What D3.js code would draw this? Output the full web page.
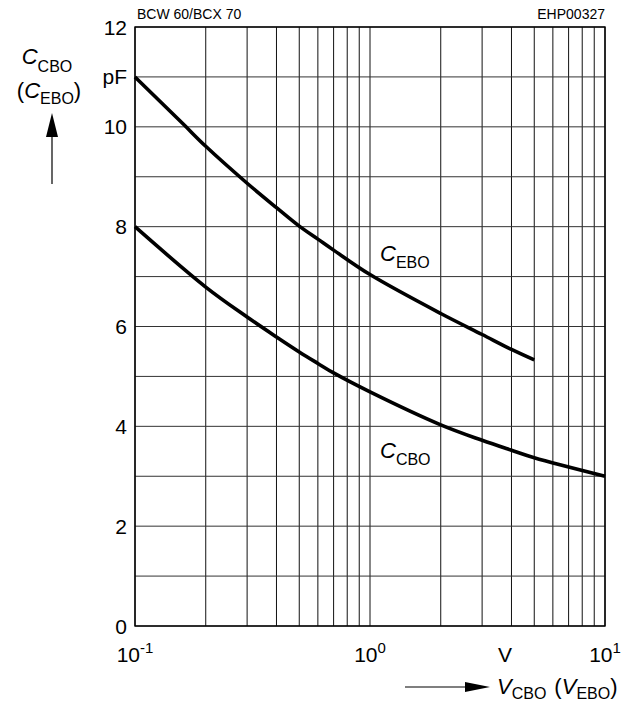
<!DOCTYPE html>
<html>
<head>
<meta charset="utf-8">
<script src="https://cdn.jsdelivr.net/npm/d3@7"></script>
<style>
  html, body { margin: 0; padding: 0; background: #fff; }
  svg text { font-family: "Liberation Sans", Arial, Helvetica, sans-serif; fill: #000; }
</style>
</head>
<body>
<svg id="chart" width="639" height="708"></svg>
<script>
// Capacitance vs. reverse voltage (BCW 60 / BCX 70)
const vEBO = [0.1, 0.16, 0.2, 0.3, 0.4, 0.5, 0.6, 0.7, 1, 2, 3, 4, 5];
const cEBO = [11, 10.06, 9.61, 8.87, 8.38, 8.01, 7.75, 7.53, 7.04, 6.26, 5.84, 5.54, 5.33];
const vCBO = [0.1, 0.2, 0.3, 0.4, 0.5, 0.6, 0.7, 1, 2, 3, 4, 5, 10];
const cCBO = [8, 6.79, 6.19, 5.79, 5.49, 5.26, 5.07, 4.69, 4.03, 3.72, 3.52, 3.37, 3.0];
const yTickValues = [0, 2, 4, 6, 8, 10, 11, 12];
const yTickText = ["0", "2", "4", "6", "8", "10", "pF", "12"];
const xDecades = [0.1, 1, 10];
const xDecadeExp = ["-1", "0", "1"];

const svg = d3.select("#chart");
const plotL = 135, plotR = 605, plotT = 27, plotB = 626;

const x = d3.scaleLog().domain([0.1, 10]).range([plotL, plotR]);
const y = d3.scaleLinear().domain([0, 12]).range([plotB, plotT]);

// grid: log minor lines per decade, horizontal every 1 pF
const xGrid = [];
for (const d of [0.1, 1]) {
  for (let k = 1; k <= 9; k++) xGrid.push(+(d * k).toPrecision(3));
}
xGrid.push(10);
const g = svg.append("g");
g.selectAll("line.vg").data(xGrid).join("line")
  .attr("x1", d => x(d)).attr("x2", d => x(d))
  .attr("y1", plotT).attr("y2", plotB)
  .attr("stroke", "#111").attr("stroke-width", 1);
g.selectAll("line.hg").data(d3.range(0, 13)).join("line")
  .attr("x1", plotL).attr("x2", plotR)
  .attr("y1", d => y(d)).attr("y2", d => y(d))
  .attr("stroke", "#333").attr("stroke-width", 1);
g.append("rect").attr("x", plotL).attr("y", plotT)
  .attr("width", plotR - plotL).attr("height", plotB - plotT)
  .attr("fill", "none").attr("stroke", "#000").attr("stroke-width", 1.4);

// curves
const line = d3.line().x(d => x(d[0])).y(d => y(d[1])).curve(d3.curveCatmullRom.alpha(0.5));
[[vEBO, cEBO], [vCBO, cCBO]].forEach(([vs, cs]) => {
  svg.append("path").datum(vs.map((v, i) => [v, cs[i]]))
    .attr("d", line).attr("fill", "none")
    .attr("stroke", "#000").attr("stroke-width", 3.6)
    .attr("stroke-linecap", "butt");
});

// y tick labels
svg.selectAll("text.yt").data(yTickValues).join("text")
  .attr("x", 127).attr("y", d => y(d) + 7.5)
  .attr("text-anchor", "end").attr("font-size", 21)
  .text((d, i) => yTickText[i]);

// x tick labels with exponent
xDecades.forEach((v, i) => {
  const t = svg.append("text").attr("x", x(v)).attr("y", 662)
    .attr("text-anchor", "middle").attr("font-size", 21);
  t.append("tspan").text("10");
  t.append("tspan").attr("dy", -9).attr("font-size", 15).text(xDecadeExp[i]);
});
svg.append("text").attr("x", 505).attr("y", 662)
  .attr("text-anchor", "middle").attr("font-size", 21).text("V");

// header texts
svg.append("text").attr("x", 137).attr("y", 19).attr("font-size", 14).text("BCW 60/BCX 70");
svg.append("text").attr("x", 605).attr("y", 19).attr("text-anchor", "end")
  .attr("font-size", 14).text("EHP00327");

// axis / curve label with subscript
function subLabel(sel, main, sub, pre, post, shift = 6) {
  if (pre) sel.append("tspan").text(pre);
  sel.append("tspan").attr("font-style", "italic").text(main);
  sel.append("tspan").attr("font-size", 16).attr("dy", shift).text(sub);
  if (post) sel.append("tspan").attr("dy", -shift).text(post);
}
subLabel(svg.append("text").attr("x", 47).attr("y", 64).attr("text-anchor", "middle")
  .attr("font-size", 22), "C", "CBO", null, null, 8);
subLabel(svg.append("text").attr("x", 49).attr("y", 98).attr("text-anchor", "middle")
  .attr("font-size", 22), "C", "EBO", "(", ")", 6);

// vertical arrow
svg.append("line").attr("x1", 52).attr("x2", 52).attr("y1", 184).attr("y2", 130)
  .attr("stroke", "#000").attr("stroke-width", 1.2);
svg.append("path").attr("d", "M52,113 L46,137 L58,137 Z").attr("fill", "#000");

// x axis title with horizontal arrow
svg.append("line").attr("x1", 405).attr("x2", 470).attr("y1", 687).attr("y2", 687)
  .attr("stroke", "#000").attr("stroke-width", 1.2);
svg.append("path").attr("d", "M490,687 L465,682 L465,692 Z").attr("fill", "#000");
const xt = svg.append("text").attr("x", 497).attr("y", 694).attr("font-size", 22);
subLabel(xt, "V", "CBO", null, null, 5);
xt.append("tspan").attr("dy", -5).attr("dx", 8).text("(");
xt.append("tspan").attr("font-style", "italic").text("V");
xt.append("tspan").attr("font-size", 16).attr("dy", 5).text("EBO");
xt.append("tspan").attr("dy", -5).text(")");

// curve labels
subLabel(svg.append("text").attr("x", 380).attr("y", 261).attr("font-size", 22), "C", "EBO", null, null, 7);
subLabel(svg.append("text").attr("x", 380).attr("y", 458).attr("font-size", 22), "C", "CBO", null, null, 7);
</script>
</body>
</html>
